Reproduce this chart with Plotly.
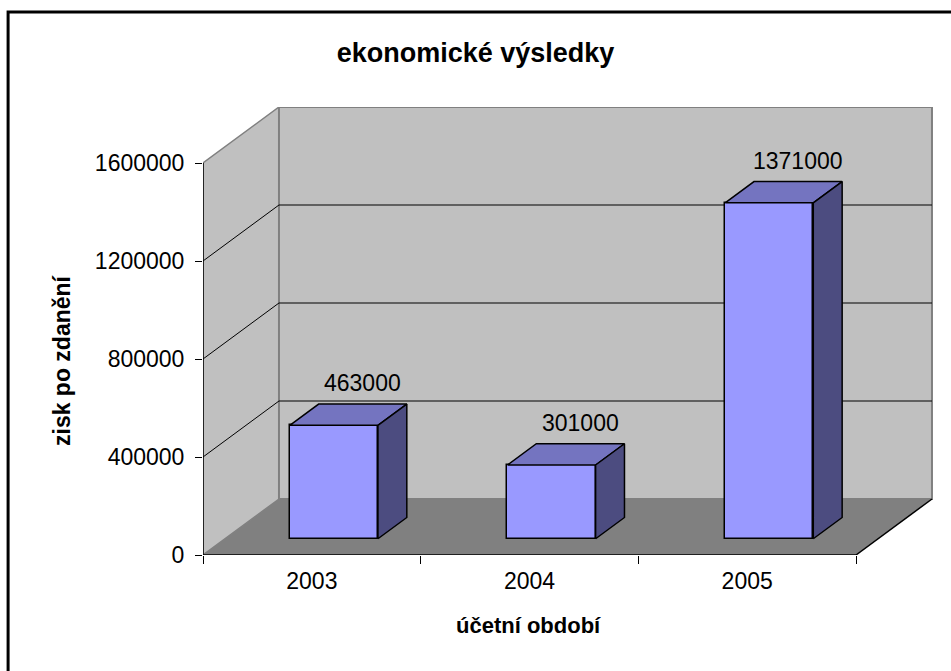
import plotly.graph_objects as go

# ---- data ----
years = ["2003", "2004", "2005"]
profit = [463000, 301000, 1371000]
y_ticks = [0, 400000, 800000, 1200000, 1600000]
title_text = "ekonomické výsledky"
y_title = "zisk po zdanění"
x_title = "účetní období"

# ---- 3D-look geometry (in axis units) ----
YMAX = 1600000
DX = 0.349          # depth shift of the back wall, x units
DY = 228571         # depth shift of the back wall, y units
D1 = 0.29           # depth of bar front face (fraction of full depth)
DD = 0.38           # bar thickness in depth (fraction of full depth)
BW = 0.405          # bar width

FONT = "Liberation Sans, Arial, sans-serif"
FRONT = "#9999FF"
TOP = "#7474C0"
SIDE = "#4C4C80"
WALL = "#C0C0C0"
FLOOR = "#808080"

xs = list(range(len(years)))
xc = [x + D1 * DX for x in xs]
base = D1 * DY

fig = go.Figure()

# front faces (real bars)
fig.add_trace(go.Bar(
    x=xc, y=profit, base=[base] * len(profit), width=BW,
    marker=dict(color=FRONT, line=dict(color="black", width=1.5)),
    hoverinfo="skip", showlegend=False,
))

# top and side faces derived from the values
for cx, v in zip(xc, profit):
    xl, xr = cx - BW / 2, cx + BW / 2
    yb, yt = base, base + v
    ddx, ddy = DD * DX, DD * DY
    fig.add_trace(go.Scatter(
        x=[xl, xr, xr + ddx, xl + ddx, xl],
        y=[yt, yt, yt + ddy, yt + ddy, yt],
        fill="toself", fillcolor=TOP, mode="lines",
        line=dict(color="black", width=1.5), hoverinfo="skip", showlegend=False))
    fig.add_trace(go.Scatter(
        x=[xr, xr + ddx, xr + ddx, xr, xr],
        y=[yb, yb + ddy, yt + ddy, yt, yb],
        fill="toself", fillcolor=SIDE, mode="lines",
        line=dict(color="black", width=1.5), hoverinfo="skip", showlegend=False))
    fig.add_annotation(x=cx + ddx, y=yt + ddy, text=f"{v}", showarrow=False,
                       xanchor="center", yanchor="bottom", yshift=6,
                       font=dict(family=FONT, size=23, color="black"))

shapes = []
x0, x1 = -0.5, len(years) - 0.5
# side wall
shapes.append(dict(type="path", layer="below", xref="x", yref="y",
                   path=f"M {x0},0 L {x0},{YMAX} L {x0+DX},{YMAX+DY} L {x0+DX},{DY} Z",
                   fillcolor=WALL, line=dict(color=FLOOR, width=1.5)))
# back wall
shapes.append(dict(type="rect", layer="below", xref="x", yref="y",
                   x0=x0 + DX, x1=x1 + DX, y0=DY, y1=YMAX + DY,
                   fillcolor=WALL, line=dict(color=FLOOR, width=2)))
# floor
shapes.append(dict(type="path", layer="below", xref="x", yref="y",
                   path=f"M {x0},0 L {x1},0 L {x1+DX},{DY} L {x0+DX},{DY} Z",
                   fillcolor=FLOOR, line=dict(width=0)))
# gridlines on walls
for v in y_ticks[1:-1]:
    shapes.append(dict(type="line", layer="below", xref="x", yref="y",
                       x0=x0, y0=v, x1=x0 + DX, y1=v + DY,
                       line=dict(color="black", width=1)))
    shapes.append(dict(type="line", layer="below", xref="x", yref="y",
                       x0=x0 + DX, y0=v + DY, x1=x1 + DX, y1=v + DY,
                       line=dict(color="black", width=1)))
# axis lines and floor right edge
shapes.append(dict(type="line", layer="below", xref="x", yref="y",
                   x0=x0, y0=0, x1=x0, y1=YMAX, line=dict(color="black", width=1.5)))
shapes.append(dict(type="line", layer="below", xref="x", yref="y",
                   x0=x0, y0=0, x1=x1, y1=0, line=dict(color="black", width=1.5)))
shapes.append(dict(type="line", layer="below", xref="x", yref="y",
                   x0=x1, y0=0, x1=x1 + DX, y1=DY, line=dict(color="black", width=1.5)))
# chart border
shapes.append(dict(type="rect", xref="paper", yref="paper",
                   x0=-0.267, x1=1.05, y0=-0.3, y1=1.212,
                   line=dict(color="black", width=3), fillcolor="rgba(0,0,0,0)"))

fig.update_layout(
    width=951, height=671,
    margin=dict(l=203, r=18, t=107, b=116, autoexpand=False),
    paper_bgcolor="white", plot_bgcolor="white",
    shapes=shapes, bargap=0, hovermode=False,
    title=dict(text=f"<b>{title_text}</b>", x=0.5, xref="container", xanchor="center",
               y=1 - 53 / 671, yref="container", yanchor="middle",
               font=dict(family=FONT, size=27, color="black")),
    font=dict(family=FONT, color="black"),
)
fig.update_xaxes(
    range=[x0, x0 + 730 / 217.67], type="linear",
    tickvals=xs, ticktext=years, ticks="", showgrid=False, zeroline=False, showline=False,
    tickfont=dict(family=FONT, size=23, color="black"), ticklabelstandoff=10,
    minor=dict(tickvals=[x0 + i for i in range(len(years) + 1)], ticks="outside",
               ticklen=8, tickcolor="black", tickwidth=1, showgrid=False),
)
fig.update_yaxes(
    range=[0, YMAX + DY], tickvals=y_ticks, ticktext=[str(t) for t in y_ticks],
    ticks="outside", ticklen=7, tickcolor="black", tickwidth=1,
    showgrid=False, zeroline=False, showline=False,
    tickfont=dict(family=FONT, size=23, color="black"), ticklabelstandoff=6,
)
fig.add_annotation(xref="paper", yref="paper", x=(62 - 203) / 730, y=(555 - 360) / 448,
                   text=f"<b>{y_title}</b>", textangle=-90, showarrow=False,
                   xanchor="center", yanchor="middle",
                   font=dict(family=FONT, size=23, color="black"))
fig.add_annotation(xref="paper", yref="paper", x=(528 - 203) / 730, y=(555 - 625) / 448,
                   text=f"<b>{x_title}</b>", showarrow=False,
                   xanchor="center", yanchor="middle",
                   font=dict(family=FONT, size=22, color="black"))

fig.write_html("out.html", config={"displayModeBar": False},
               post_script="document.body.style.margin='0';document.body.style.padding='0';")
